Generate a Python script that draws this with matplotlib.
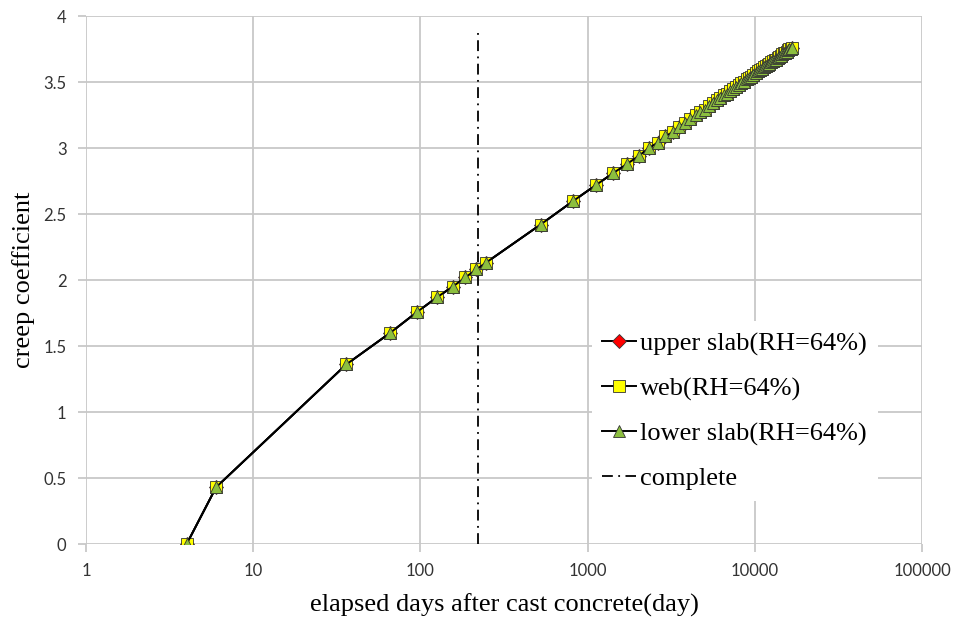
import matplotlib
matplotlib.use("Agg")
import matplotlib.pyplot as plt
from matplotlib.ticker import FixedLocator, FixedFormatter, NullLocator

# ---- data ----
days = [4, 6, 36, 66, 96, 126, 156, 186, 216, 246,
        523, 823, 1123, 1423, 1723, 2023, 2323, 2623, 2923, 3223,
        3523, 3823, 4123, 4423, 4723, 5023, 5323, 5623, 5923, 6223,
        6523, 6823, 7123, 7423, 7723, 8023, 8323, 8623, 8923, 9223,
        9523, 9823, 10123, 10423, 10723, 11023, 11323, 11623, 11923, 12223,
        12523, 12823, 13123, 13423, 13723, 14023, 14323, 14623, 14923, 15223,
        15523, 15823, 16123, 16423, 16723]

upper_slab = [0.00, 0.43, 1.36, 1.60, 1.76, 1.87, 1.95, 2.02, 2.08, 2.13,
              2.42, 2.60, 2.72, 2.81, 2.88, 2.94, 3.00, 3.04, 3.09, 3.12,
              3.16, 3.19, 3.22, 3.25, 3.27, 3.29, 3.32, 3.34, 3.36, 3.38,
              3.40, 3.41, 3.43, 3.45, 3.46, 3.48, 3.49, 3.50, 3.52, 3.53,
              3.54, 3.55, 3.57, 3.58, 3.59, 3.60, 3.61, 3.62, 3.63, 3.64,
              3.65, 3.66, 3.67, 3.67, 3.68, 3.69, 3.70, 3.71, 3.72, 3.72,
              3.73, 3.74, 3.75, 3.75, 3.76]

web = [0.00, 0.43, 1.36, 1.60, 1.76, 1.87, 1.95, 2.02, 2.08, 2.13,
       2.42, 2.60, 2.72, 2.81, 2.88, 2.94, 3.00, 3.04, 3.09, 3.12,
       3.16, 3.19, 3.22, 3.25, 3.27, 3.29, 3.32, 3.34, 3.36, 3.38,
       3.40, 3.41, 3.43, 3.45, 3.46, 3.48, 3.49, 3.50, 3.52, 3.53,
       3.54, 3.55, 3.57, 3.58, 3.59, 3.60, 3.61, 3.62, 3.63, 3.64,
       3.65, 3.66, 3.67, 3.67, 3.68, 3.69, 3.70, 3.71, 3.72, 3.72,
       3.73, 3.74, 3.75, 3.75, 3.76]

lower_slab = [0.00, 0.43, 1.36, 1.60, 1.76, 1.87, 1.95, 2.02, 2.08, 2.13,
              2.42, 2.60, 2.72, 2.81, 2.88, 2.94, 3.00, 3.04, 3.09, 3.12,
              3.16, 3.19, 3.22, 3.25, 3.27, 3.29, 3.32, 3.34, 3.36, 3.38,
              3.40, 3.41, 3.43, 3.45, 3.46, 3.48, 3.49, 3.50, 3.52, 3.53,
              3.54, 3.55, 3.57, 3.58, 3.59, 3.60, 3.61, 3.62, 3.63, 3.64,
              3.65, 3.66, 3.67, 3.67, 3.68, 3.69, 3.70, 3.71, 3.72, 3.72,
              3.73, 3.74, 3.75, 3.75, 3.76]

complete_day = [220, 220]
complete_y = [0, 3.9]

x_ticks = [1, 10, 100, 1000, 10000, 100000]
x_tick_labels = ["1", "10", "100", "1000", "10000", "100000"]
y_ticks = [0, 0.5, 1, 1.5, 2, 2.5, 3, 3.5, 4]
y_tick_labels = ["0", "0.5", "1", "1.5", "2", "2.5", "3", "3.5", "4"]

series_labels = ["upper slab(RH=64%)", "web(RH=64%)", "lower slab(RH=64%)", "complete"]

# ---- figure ----
fig = plt.figure(figsize=(9.59, 6.23), dpi=100)
ax = fig.add_axes([0.0897, 0.1268, 0.8717, 0.8475])

ax.plot(days, upper_slab, color="black", lw=1.4, marker="D", ms=7,
        mfc="#ff0000", mec="#333333", mew=0.6, label=series_labels[0], zorder=3)
ax.plot(days, web, color="black", lw=1.4, marker="s", ms=9,
        mfc="#ffff00", mec="#333333", mew=0.6, label=series_labels[1], zorder=4)
ax.plot(days, lower_slab, color="black", lw=1.4, marker="^", ms=8.5,
        mfc="#8cbf3f", mec="#333333", mew=0.6, label=series_labels[2], zorder=5)
ax.plot(complete_day, complete_y, color="black", lw=1.3,
        linestyle=(0, (6, 3, 1, 3)), label=series_labels[3], zorder=2)

ax.set_xscale("log")
ax.set_xlim(1, 100000)
ax.set_ylim(0, 4)
ax.xaxis.set_major_locator(FixedLocator(x_ticks))
ax.xaxis.set_major_formatter(FixedFormatter(x_tick_labels))
ax.xaxis.set_minor_locator(NullLocator())
ax.set_yticks(y_ticks)
ax.set_yticklabels(y_tick_labels)

for s in ax.spines.values():
    s.set_visible(False)
ax.grid(True, color="#c8c8c8", lw=1.3, zorder=0)
ax.set_axisbelow(True)
ax.tick_params(axis="both", which="major", length=6, width=1.3, color="#c8c8c8",
               labelsize=12, labelcolor="#333333", pad=8)
for lab in ax.get_xticklabels() + ax.get_yticklabels():
    lab.set_fontfamily("Lato")

ax.set_xlabel("elapsed days after cast concrete(day)", fontsize=19,
              family="Liberation Serif", labelpad=10)
ax.set_ylabel("creep coefficient", fontsize=19, family="Liberation Serif", labelpad=6)

leg = ax.legend(loc="upper left", bbox_to_anchor=(0.589, 0.447), frameon=True,
                fancybox=False, edgecolor="none", facecolor="white", framealpha=1,
                prop={"family": "Liberation Serif", "size": 19},
                handlelength=1.3, handletextpad=0.15, labelspacing=0.8,
                borderpad=0.4)

fig.savefig("out.png", dpi=100)
